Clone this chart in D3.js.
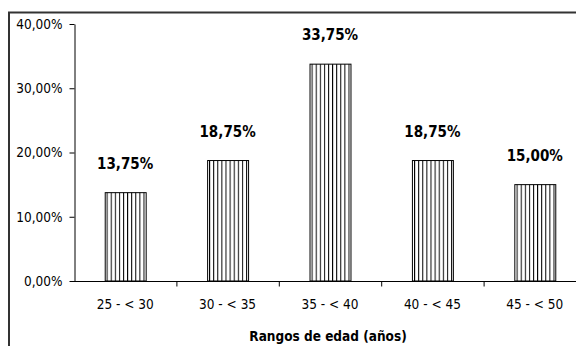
<!DOCTYPE html>
<html>
<head>
<meta charset="utf-8">
<script src="https://cdn.jsdelivr.net/npm/d3@7"></script>
<style>
  html, body { margin: 0; padding: 0; background: #fff; }
  svg { display: block; }
</style>
</head>
<body>
<div id="chart"></div>
<script>
// Distribución por rangos de edad
const categories = ["25 - < 30", "30 - < 35", "35 - < 40", "40 - < 45", "45 - < 50"];
const values = [13.75, 18.75, 33.75, 18.75, 15.00];
const yTicks = [0, 10, 20, 30, 40];
const xTitle = "Rangos de edad (años)";

const W = 576, H = 346;
const font = "'DejaVu Sans Condensed', 'DejaVu Sans', sans-serif";
const fmt = v => v.toFixed(2).replace(".", ",") + "%";

const svg = d3.select("#chart").append("svg")
  .attr("width", W).attr("height", H);

// striped fill for the bars
const defs = svg.append("defs");
const pat = defs.append("pattern")
  .attr("id", "stripes")
  .attr("patternUnits", "userSpaceOnUse")
  .attr("width", 4.1).attr("height", 10);
pat.append("rect").attr("width", 4.1).attr("height", 10).attr("fill", "#fff");
pat.append("rect").attr("x", 0).attr("width", 1).attr("height", 10).attr("fill", "#000");

// outer frame
svg.append("rect")
  .attr("x", 9).attr("y", 12.5)
  .attr("width", W + 20).attr("height", H + 20)
  .attr("fill", "none").attr("stroke", "#333").attr("stroke-width", 2);

const x = d3.scaleBand().domain(categories).range([74, 586]).padding(0);
const y = d3.scaleLinear().domain([0, 40]).range([281, 24]);

const barW = x.bandwidth() * 0.4;

// bars
svg.append("g").selectAll("rect")
  .data(values)
  .join("rect")
  .attr("x", (d, i) => x(categories[i]) + (x.bandwidth() - barW) / 2 + 0.5)
  .attr("y", d => y(d))
  .attr("width", barW)
  .attr("height", d => y(0) - y(d))
  .attr("fill", "url(#stripes)")
  .attr("stroke", "#000")
  .attr("stroke-width", 1);

// y axis
const yAxis = svg.append("g")
  .attr("transform", "translate(74.5,0)")
  .call(d3.axisLeft(y).tickValues(yTicks).tickSize(5).tickSizeOuter(0).tickFormat(fmt));
yAxis.select(".domain").attr("stroke", "#000");
yAxis.selectAll(".tick line").attr("stroke", "#000");
yAxis.selectAll("text")
  .attr("x", -12)
  .attr("font-family", font).attr("font-size", 13.5).attr("fill", "#000");

// x axis with ticks on category boundaries
const xAxis = svg.append("g")
  .attr("transform", "translate(0,281.5)");
xAxis.append("line")
  .attr("x1", 74).attr("x2", 586)
  .attr("stroke", "#000");
xAxis.selectAll("line.tk")
  .data(categories.slice(1))
  .join("line")
  .attr("class", "tk")
  .attr("x1", d => x(d) + 0.5).attr("x2", d => x(d) + 0.5)
  .attr("y1", 0).attr("y2", 5)
  .attr("stroke", "#000");
xAxis.selectAll("text")
  .data(categories)
  .join("text")
  .attr("x", d => x(d) + x.bandwidth() / 2)
  .attr("y", 27)
  .attr("text-anchor", "middle")
  .attr("font-family", font).attr("font-size", 13.5).attr("fill", "#000")
  .text(d => d);

// value labels
svg.append("g").selectAll("text")
  .data(values)
  .join("text")
  .attr("x", (d, i) => x(categories[i]) + x.bandwidth() / 2)
  .attr("y", d => y(d) - 24)
  .attr("text-anchor", "middle")
  .attr("font-family", font).attr("font-size", 15).attr("font-weight", "bold").attr("fill", "#000")
  .text(d => fmt(d));

// axis title
svg.append("text")
  .attr("x", 328).attr("y", 341)
  .attr("text-anchor", "middle")
  .attr("font-family", font).attr("font-size", 13.5).attr("font-weight", "bold").attr("fill", "#000")
  .text(xTitle);
</script>
</body>
</html>
